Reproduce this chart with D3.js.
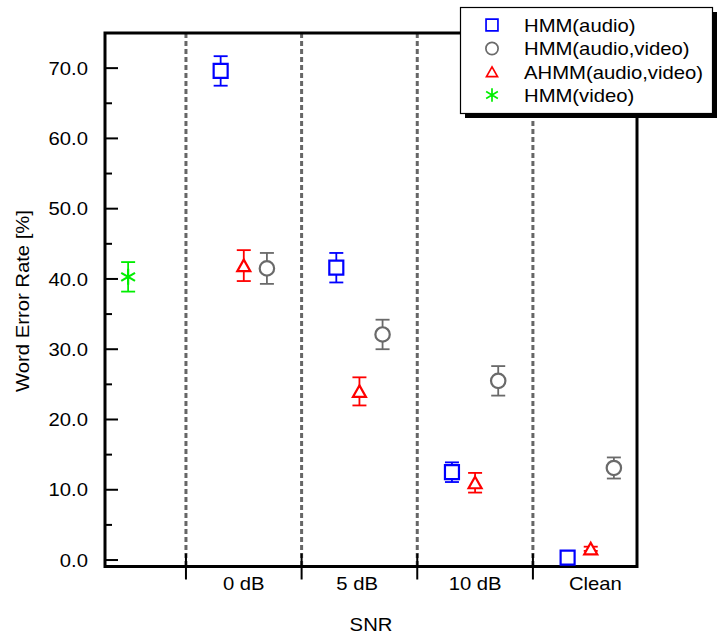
<!DOCTYPE html>
<html><head><meta charset="utf-8">
<script src="https://cdn.jsdelivr.net/npm/d3@7"></script>
<style>
body{margin:0;background:#fff;}
text{font-family:"Liberation Sans",Arial,sans-serif;fill:#000;}
</style></head>
<body><svg id="c" width="717" height="634"></svg>
<script>
const categories = ["0 dB", "5 dB", "10 dB", "Clean"];
const catPos = [1, 2, 3, 4];
const labelPos = [1.0, 1.98, 3.0, 4.04];
const separators = [0.5, 1.5, 2.5, 3.5];
const hmmAudio = [69.6, 41.6, 12.5, 0.35];
const hmmAudioErr = [2.1, 2.1, 1.4, 0];
const hmmAV = [41.5, 32.1, 25.5, 13.1];
const hmmAVErr = [2.2, 2.1, 2.1, 1.5];
const ahmm = [41.9, 24.0, 11.0, 1.6];
const ahmmErr = [2.2, 2.0, 1.4, 0.3];
const videoPos = [0];
const video = [40.3];
const videoErr = [2.1];
const yTicks = [0, 10, 20, 30, 40, 50, 60, 70];
const yMinor = [5, 15, 25, 35, 45, 55, 65];
const legendNames = ["HMM(audio)", "HMM(audio,video)", "AHMM(audio,video)", "HMM(video)"];

const svg = d3.select("#c");
const L = 105, T = 33, R = 637, B = 566.5;
const SX = 1.09, FS = 18.6;
const x = d3.scaleLinear().domain([-0.2, 4.4]).range([L, R]);
const y = d3.scaleLinear().domain([-0.92, 75]).range([B, T]);

function label(parent, tx, ty, str, anchor, rot, dy) {
  return parent.append("text")
    .attr("transform", `translate(${tx},${ty})${rot ? " rotate(" + rot + ")" : ""} scale(${SX},1)`)
    .attr("text-anchor", anchor).attr("dy", dy || 0).attr("font-size", FS).text(str);
}

// dashed separators
svg.selectAll("line.sep").data(separators).enter().append("line")
  .attr("x1", d => x(d)).attr("x2", d => x(d))
  .attr("y1", T).attr("y2", B)
  .attr("stroke", "#666").attr("stroke-width", 3).attr("stroke-dasharray", "5,3");

// x axis ticks crossing bottom axis
svg.selectAll("line.xt").data(separators).enter().append("line")
  .attr("x1", d => x(d)).attr("x2", d => x(d))
  .attr("y1", B - 13).attr("y2", B + 13)
  .attr("stroke", "#000").attr("stroke-width", 2);

// y ticks
svg.selectAll("line.yt").data(yTicks).enter().append("line")
  .attr("x1", L).attr("x2", L + 13).attr("y1", d => y(d)).attr("y2", d => y(d))
  .attr("stroke", "#000").attr("stroke-width", 2);
svg.selectAll("line.ym").data(yMinor).enter().append("line")
  .attr("x1", L).attr("x2", L + 7).attr("y1", d => y(d)).attr("y2", d => y(d))
  .attr("stroke", "#000").attr("stroke-width", 2);
yTicks.forEach(d => label(svg, 88, y(d), d3.format(".1f")(d), "end", 0, "0.36em"));

// x labels
categories.forEach((c, i) => label(svg, x(labelPos[i]), 590, c, "middle"));

label(svg, 371, 631, "SNR", "middle");
label(svg, 29, 301, "Word Error Rate [%]", "middle", -90);

// frame
svg.append("rect").attr("x", L).attr("y", T).attr("width", R - L).attr("height", B - T)
  .attr("fill", "none").attr("stroke", "#000").attr("stroke-width", 3);

// markers
function errorBars(g, xs, vals, errs, color) {
  const cap = 7;
  vals.forEach((v, i) => {
    if (!errs[i]) return;
    const cx = x(xs[i]);
    g.append("line").attr("x1", cx).attr("x2", cx).attr("y1", y(v + errs[i])).attr("y2", y(v - errs[i]))
      .attr("stroke", color).attr("stroke-width", 1.8);
    [v + errs[i], v - errs[i]].forEach(e => {
      g.append("line").attr("x1", cx - cap).attr("x2", cx + cap).attr("y1", y(e)).attr("y2", y(e))
        .attr("stroke", color).attr("stroke-width", 1.8);
    });
  });
}
const sqPath = "M-7,-7H7V7H-7Z";
const triPath = "M0,-6L6.5,5.5L-6.5,5.5Z";
const cirPath = "M7.2,0A7.2,7.2 0 1,1 -7.2,0A7.2,7.2 0 1,1 7.2,0Z";
const starPath = "M0,-8V8M-6.9,-4L6.9,4M-6.9,4L6.9,-4";

const series = [
  {vals: hmmAudio, errs: hmmAudioErr, xs: catPos.map(p => p - 0.2), color: "#0000ff", path: sqPath},
  {vals: hmmAV, errs: hmmAVErr, xs: catPos.map(p => p + 0.2), color: "#6a6a6a", path: cirPath},
  {vals: ahmm, errs: ahmmErr, xs: catPos, color: "#ff0000", path: triPath},
  {vals: video, errs: videoErr, xs: videoPos, color: "#00ee00", path: starPath}
];
series.forEach(s => {
  const g = svg.append("g");
  errorBars(g, s.xs, s.vals, s.errs, s.color);
  g.selectAll("path").data(s.vals).enter().append("path")
    .attr("transform", (d, i) => `translate(${x(s.xs[i])},${y(d)})`)
    .attr("d", s.path)
    .attr("fill", s.path === starPath ? "none" : "#fff")
    .attr("stroke", s.color).attr("stroke-width", 2.2);
});

// legend
const lg = svg.append("g");
lg.append("rect").attr("x", 465).attr("y", 12).attr("width", 252).attr("height", 106).attr("fill", "#000");
lg.append("rect").attr("x", 460.5).attr("y", 7.5).attr("width", 252).attr("height", 106)
  .attr("fill", "#fff").attr("stroke", "#000").attr("stroke-width", 1.2);
const rowY = [25, 48.5, 72, 95];
legendNames.forEach((n, i) => {
  const s = series[i];
  lg.append("path").attr("d", s.path)
    .attr("fill", s.path === starPath ? "none" : "#fff").attr("stroke", s.color).attr("stroke-width", 2)
    .attr("transform", `translate(492,${rowY[i]}) scale(0.85)`);
  label(lg, 524, rowY[i], n, "start", 0, "0.36em");
});
</script></body></html>
